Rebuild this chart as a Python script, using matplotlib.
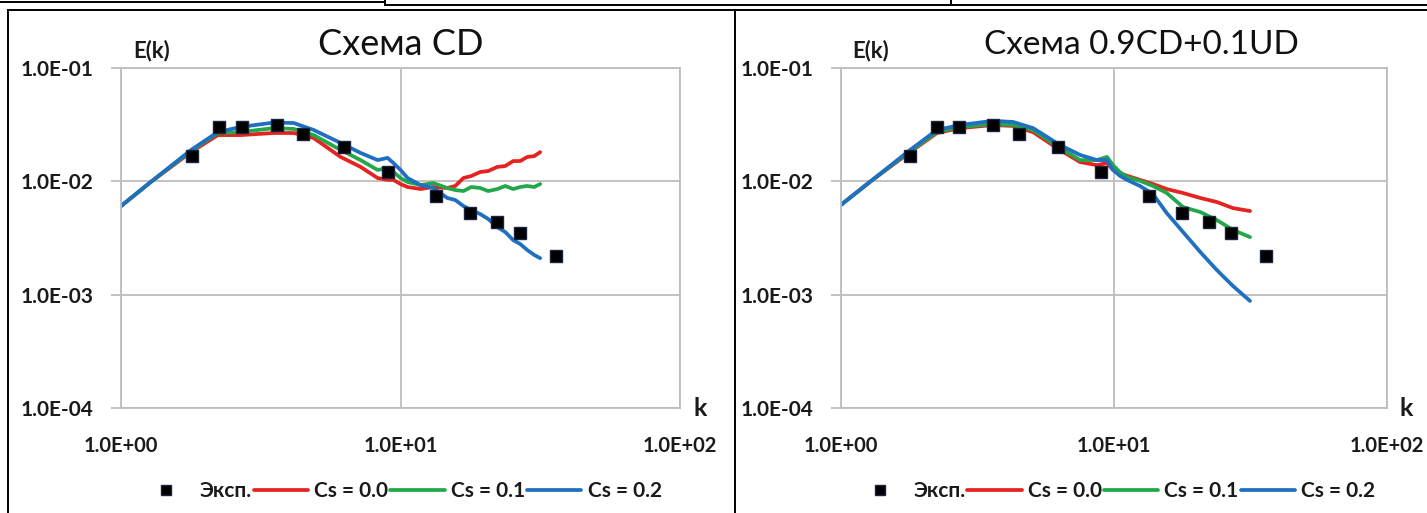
import numpy as np
import matplotlib
matplotlib.use('Agg')
from matplotlib import pyplot as plt
from matplotlib.lines import Line2D
from matplotlib.ticker import FixedLocator, NullLocator, FuncFormatter

plt.rcParams['font.family'] = ['Lato', 'Noto Sans', 'DejaVu Sans']

# experimental spectrum (same in both panels)
k_exp = [1.79, 2.24, 2.70, 3.61, 4.47, 6.26, 8.99, 13.4, 17.8, 22.2, 26.8, 36.1]
E_exp = [0.0166, 0.0300, 0.0300, 0.0312, 0.0260, 0.0200, 0.0122, 0.0074, 0.0053, 0.0044, 0.0035, 0.0022]

# scheme CD
k_cd = [1.00, 1.28, 1.78, 2.22, 2.68, 3.52, 4.15, 4.89, 6.11, 7.20, 8.28, 8.99, 9.44,
        10.0, 10.6, 11.8, 13.1, 14.7, 15.7, 16.8, 17.9, 19.3, 20.6, 22.2, 23.7, 25.3,
        26.8, 28.4, 30.1, 31.6]
cd_cs00 = [0.00605, 0.0099, 0.0181, 0.0256, 0.0256, 0.0267, 0.0267, 0.0241, 0.0164, 0.0134,
           0.0107, 0.0103, 0.0103, 0.00947, 0.00891, 0.00855, 0.00891, 0.00873, 0.00910,
           0.0107, 0.01114, 0.0121, 0.01233, 0.0134, 0.01365, 0.0151, 0.0151, 0.0164,
           0.0167, 0.0181]
cd_cs01 = [0.00605, 0.0099, 0.0185, 0.0267, 0.0272, 0.0295, 0.0290, 0.0256, 0.0189, 0.0154,
           0.0126, 0.0131, 0.0121, 0.0107, 0.00986, 0.00927, 0.00966, 0.00873, 0.00838,
           0.00821, 0.00891, 0.00873, 0.00821, 0.00855, 0.0091, 0.00855, 0.00891, 0.0091,
           0.00891, 0.00947]
cd_cs02 = [0.00605, 0.0099, 0.0189, 0.0272, 0.0302, 0.0330, 0.0327, 0.0284, 0.0218, 0.0178,
           0.0154, 0.0161, 0.0145, 0.0126, 0.0107, 0.00927, 0.00873, 0.00713, 0.00684,
           0.00605, 0.00558, 0.00514, 0.00465, 0.00395, 0.00357, 0.00303, 0.0028, 0.00248,
           0.00224, 0.0021]

# scheme 0.9CD+0.1UD
k_mix = [1.00, 1.277, 1.79, 2.247, 2.73, 3.61, 4.27, 5.05, 6.34, 7.51, 8.66, 9.43, 9.92,
         10.5, 11.16, 12.45, 13.9, 15.6, 17.9, 20.7, 23.8, 27.3, 31.5]
mix_cs00 = [0.0062, 0.0099, 0.0181, 0.0267, 0.0295, 0.0314, 0.0308, 0.0272, 0.0189, 0.0148,
            0.0139, 0.0145, 0.0126, 0.0118, 0.0112, 0.0103, 0.00947, 0.00855, 0.00789,
            0.00713, 0.00657, 0.0058, 0.00547]
mix_cs01 = [0.0062, 0.0099, 0.0185, 0.0272, 0.0302, 0.0320, 0.0314, 0.0284, 0.0197, 0.0154,
            0.0154, 0.0164, 0.0139, 0.0121, 0.0109, 0.0101, 0.0091, 0.00789, 0.00593,
            0.00536, 0.00455, 0.00372, 0.00322]
mix_cs02 = [0.0062, 0.0099, 0.0189, 0.0284, 0.0314, 0.0342, 0.0334, 0.0295, 0.0209, 0.0171,
            0.0154, 0.0154, 0.0126, 0.0112, 0.0103, 0.0091, 0.0077, 0.00525, 0.00357,
            0.00238, 0.00165, 0.00119, 0.00088]

titles = ['Схема CD', 'Схема 0.9CD+0.1UD']
labels = ['Cs = 0.0', 'Cs = 0.1', 'Cs = 0.2']
colors = ['#e52421', '#22a84a', '#1f70c1']

W, H = 1427, 513
fig = plt.figure(figsize=(W / 100, H / 100), dpi=100)


def sci(v, pos):
    return '{:.1E}'.format(v)


def draw(ax, title, title_size, title_x, k, series):
    for y, lab, c in zip(series, labels, colors):
        ax.plot(k, y, color=c, lw=2.7, label=lab, solid_capstyle='round')
    ax.plot(k_exp, E_exp, 's', color='black', mec='#1a2440', ms=9, label='Эксп.', zorder=5)

    ax.set_xscale('log')
    ax.set_yscale('log')
    ax.set_xlim(1, 100)
    ax.set_ylim(1e-4, 1e-1)
    ax.xaxis.set_major_locator(FixedLocator([1, 10, 100]))
    ax.yaxis.set_major_locator(FixedLocator([1e-4, 1e-3, 1e-2, 1e-1]))
    ax.xaxis.set_minor_locator(NullLocator())
    ax.yaxis.set_minor_locator(NullLocator())
    ax.xaxis.set_major_formatter(FuncFormatter(sci))
    ax.yaxis.set_major_formatter(FuncFormatter(sci))
    ax.grid(True, color='#bdbdbd', lw=1.3)
    for s in ax.spines.values():
        s.set_color('#bdbdbd')
        s.set_linewidth(1.3)
    ax.tick_params(axis='x', length=0, pad=20, labelsize=14.5)
    ax.tick_params(axis='y', length=7, width=1.3, color='#bdbdbd', pad=13, labelsize=15)
    for t in ax.get_xticklabels() + ax.get_yticklabels():
        t.set_fontweight('bold')
        t.set_color('#1a1a1a')

    ax.text(title_x, 1.068, title, transform=ax.transAxes, fontsize=title_size,
            ha='center', va='center', color='#111111')
    ax.text(0.055, 1.052, 'E(k)', transform=ax.transAxes, fontsize=16, fontweight='bold',
            ha='center', va='center', color='#1a1a1a')
    ax.text(1.036, 0.0, 'k', transform=ax.transAxes, fontsize=18, fontweight='bold',
            ha='center', va='center', color='#1a1a1a')

    h, l = ax.get_legend_handles_labels()
    order = [3, 0, 1, 2]
    leg = ax.legend([h[i] for i in order], [l[i] for i in order], loc='center',
                    bbox_to_anchor=(0.5, -0.245), ncol=4, frameon=False,
                    handlelength=2.6, handletextpad=0.3, columnspacing=0.1,
                    markerscale=0.75, prop={'weight': 'bold', 'size': 15})
    for t in leg.get_texts():
        t.set_color('#1a1a1a')


ax1 = fig.add_axes([121 / W, 1 - 408 / H, 559 / W, 340 / H])
draw(ax1, titles[0], 26, 0.5, k_cd, [cd_cs00, cd_cs01, cd_cs02])

ax2 = fig.add_axes([841 / W, 1 - 408 / H, 546 / W, 340 / H])
draw(ax2, titles[1], 24, 0.55, k_mix, [mix_cs00, mix_cs01, mix_cs02])


# table cell borders around the two charts
def border(x0, y0, x1, y1, lw=1.4):
    fig.add_artist(Line2D([x0 / W, x1 / W], [1 - y0 / H, 1 - y1 / H], color='black', lw=lw))


border(0, 2, 385, 2)
border(385, 0, 385, 5)
border(385, 5, W, 5)
border(8, 10, W, 10)
border(8, 10, 8, H)
border(735, 10, 735, H)
border(951, 0, 951, 5)

fig.savefig('out.png', dpi=100)
